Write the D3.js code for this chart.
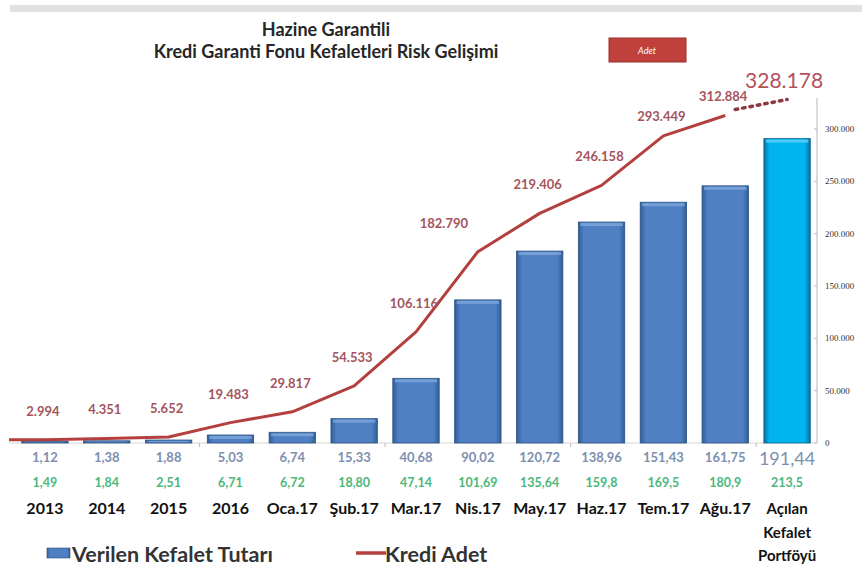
<!DOCTYPE html>
<html><head><meta charset="utf-8">
<script src="https://cdn.jsdelivr.net/npm/d3@7"></script>
<style>
html,body{margin:0;padding:0;background:#fff;}
svg{display:block;font-family:Lato,"Open Sans",sans-serif;}
</style></head>
<body><svg id="c" width="862" height="570"></svg>
<script>
const categories = ["2013","2014","2015","2016","Oca.17","Şub.17","Mar.17","Nis.17","May.17","Haz.17","Tem.17","Ağu.17","Açılan Kefalet Portföyü"];
const tutar = [1.12,1.38,1.88,5.03,6.74,15.33,40.68,90.02,120.72,138.96,151.43,161.75,191.44];
const tutarLabels = ["1,12","1,38","1,88","5,03","6,74","15,33","40,68","90,02","120,72","138,96","151,43","161,75","191,44"];
const ikinciLabels = ["1,49","1,84","2,51","6,71","6,72","18,80","47,14","101,69","135,64","159,8","169,5","180,9","213,5"];
const krediAdet = [2994,4351,5652,19483,29817,54533,106116,182790,219406,246158,293449,312884,328178];
const krediLabels = ["2.994","4.351","5.652","19.483","29.817","54.533","106.116","182.790","219.406","246.158","293.449","312.884","328.178"];
const rightTicks = [0,50000,100000,150000,200000,250000,300000];
const rightTickLabels = ["0","50.000","100.000","150.000","200.000","250.000","300.000"];
const titleLines = ["Hazine Garantili","Kredi Garanti Fonu Kefaletleri Risk Gelişimi"];

const svg = d3.select("#c");
const defs = svg.append("defs");
function grad(id, edge, mid){
  const g = defs.append("linearGradient").attr("id",id).attr("x1","0").attr("x2","1").attr("y1","0").attr("y2","0");
  g.append("stop").attr("offset","0").attr("stop-color",edge);
  g.append("stop").attr("offset","0.12").attr("stop-color",mid);
  g.append("stop").attr("offset","0.88").attr("stop-color",mid);
  g.append("stop").attr("offset","1").attr("stop-color",edge);
}
grad("gBlue","#2f5d96","#4f80c4");
grad("gCyan","#0a6f9e","#00b4f0");

// top gray band
svg.append("rect").attr("x",10).attr("y",5).attr("width",852).attr("height",7).attr("fill","#e2e2e2");

const x = d3.scaleBand().domain(categories).range([14,818]).paddingInner(0.25).paddingOuter(0.125);
const yBar = d3.scaleLinear().domain([0,200]).range([443,125]);
const yLine = d3.scaleLinear().domain([0,300000]).range([443,129]);

// title
svg.append("g").selectAll("text").data(titleLines).join("text")
  .attr("x",326).attr("y",(d,i)=>36+i*22).attr("text-anchor","middle")
  .attr("font-size",18).attr("font-weight","bold").attr("fill","#262626").text(d=>d);

// Adet box
svg.append("rect").attr("x",609).attr("y",38).attr("width",77).attr("height",24).attr("fill","#c0413b").attr("stroke","#9a2f2a").attr("stroke-width",1);
svg.append("text").attr("x",647).attr("y",54).attr("text-anchor","middle").attr("font-size",9).attr("font-style","italic").attr("fill","#fff").text("Adet");

// right axis
svg.append("line").attr("x1",817).attr("x2",817).attr("y1",98).attr("y2",443).attr("stroke","#cfcfcf").attr("stroke-width",1.5);
const ra = svg.append("g");
ra.selectAll("line").data(rightTicks).join("line")
  .attr("x1",814).attr("x2",817).attr("y1",d=>yLine(d)).attr("y2",d=>yLine(d)).attr("stroke","#bbb");
ra.selectAll("text").data(rightTicks).join("text")
  .attr("x",825).attr("y",d=>yLine(d)+3).attr("font-size",9).attr("font-family","'Liberation Serif',serif").attr("fill","#333")
  .text((d,i)=>rightTickLabels[i]);

// baseline
svg.append("line").attr("x1",9).attr("x2",817).attr("y1",443).attr("y2",443).attr("stroke","#d6d6d6").attr("stroke-width",1);
svg.append("g").selectAll("line").data(categories.filter((d,i)=>i>0 && i%3===0)).join("line")
  .attr("x1",d=>x(d)-x.step()*x.paddingInner()/2).attr("x2",d=>x(d)-x.step()*x.paddingInner()/2)
  .attr("y1",443).attr("y2",447).attr("stroke","#bbb");

// bars
const last = categories.length-1;
const bars = svg.append("g");
bars.selectAll("rect.b").data(tutar).join("rect").attr("class","b")
  .attr("x",(d,i)=>x(categories[i])).attr("width",x.bandwidth())
  .attr("y",d=>yBar(d)).attr("height",d=>yBar(0)-yBar(d))
  .attr("fill",(d,i)=>i===last?"url(#gCyan)":"url(#gBlue)")
  .attr("stroke",(d,i)=>i===last?"#0a5f86":"#2c5280").attr("stroke-width",0.8);
bars.selectAll("rect.t").data(tutar).join("rect").attr("class","t")
  .attr("x",(d,i)=>x(categories[i])+2).attr("width",x.bandwidth()-4)
  .attr("y",d=>yBar(d)+1).attr("height",d=>Math.min(3,Math.max(0,yBar(0)-yBar(d)-2)))
  .attr("fill",(d,i)=>i===last?"#5fd0f8":"#7ea6dc").attr("opacity",0.8);

// line
const cx = i => x(categories[i]) + x.bandwidth()/2;
const pts = krediAdet.slice(0,last).map((v,i)=>[cx(i), yLine(v)]);
pts.unshift([x.range()[0]-5, yLine(krediAdet[0])]);
svg.append("path").attr("d",d3.line()(pts)).attr("fill","none").attr("stroke","#b3403f").attr("stroke-width",3).attr("stroke-linejoin","round");
svg.append("path").attr("d",d3.line()([[cx(last-1)+10, yLine(krediAdet[last-1])-6],[cx(last), yLine(krediAdet[last])]]))
  .attr("fill","none").attr("stroke","#8c3a3f").attr("stroke-width",3.5).attr("stroke-dasharray","2.5,5").attr("stroke-linecap","round");

// line labels
svg.append("g").selectAll("text").data(krediAdet.slice(0,last)).join("text")
  .attr("x",(d,i)=>i===7?cx(i)-34:cx(i)-2)
  .attr("y",(d,i)=>yLine(d)-(i>=10?15:24))
  .attr("text-anchor","middle").attr("font-size",13).attr("font-weight","bold").attr("fill","#a4545c")
  .text((d,i)=>krediLabels[i]);
svg.append("text").attr("x",cx(last)-3).attr("y",yLine(krediAdet[last])-12).attr("text-anchor","middle")
  .attr("font-size",21).attr("fill","#b4505a").text(krediLabels[last]);

// value rows
svg.append("g").selectAll("text").data(tutarLabels).join("text")
  .attr("x",(d,i)=>cx(i)).attr("y",(d,i)=>i===last?465:462).attr("text-anchor","middle")
  .attr("font-size",(d,i)=>i===last?18:13).attr("font-weight",(d,i)=>i===last?"normal":"bold").attr("fill","#7d8fae").text(d=>d);
svg.append("g").selectAll("text").data(ikinciLabels).join("text")
  .attr("x",(d,i)=>cx(i)).attr("y",487).attr("text-anchor","middle")
  .attr("font-size",12.5).attr("font-weight","bold").attr("fill","#4cb87a").text(d=>d);
// category labels
svg.append("g").selectAll("text").data(categories).join("text")
  .attr("x",(d,i)=>cx(i)).attr("y",514).attr("text-anchor","middle")
  .attr("font-size",(d,i)=>i===last?15:16).attr("font-weight","bold").attr("fill","#111")
  .each(function(d){
    const parts = d.split(" ");
    const t = d3.select(this);
    parts.forEach((p,j)=>t.append("tspan").attr("x",t.attr("x")).attr("dy",j===0?0:23.5).text(p));
  });

// legend
svg.append("rect").attr("x",47).attr("y",548).attr("width",23).attr("height",10).attr("fill","url(#gBlue)").attr("stroke","#2c5280").attr("stroke-width",0.6);
svg.append("text").attr("x",72).attr("y",562).attr("font-size",21.5).attr("font-weight","bold").attr("fill","#333").text("Verilen Kefalet Tutarı");
svg.append("line").attr("x1",356).attr("x2",386).attr("y1",553).attr("y2",553).attr("stroke","#b3403f").attr("stroke-width",3.5);
svg.append("text").attr("x",385).attr("y",562).attr("font-size",21.5).attr("font-weight","bold").attr("fill","#333").text("Kredi Adet");
</script></body></html>
